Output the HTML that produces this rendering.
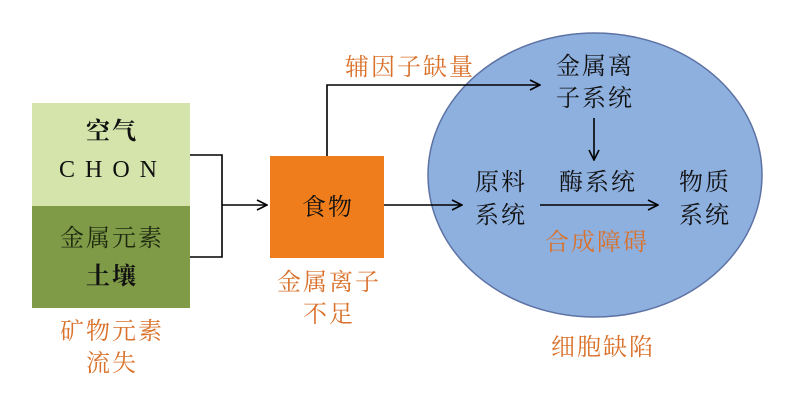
<!DOCTYPE html>
<html><head><meta charset="utf-8"><style>
body{margin:0;background:#fff}
svg text{font-family:"Liberation Serif","Noto Serif CJK SC","Noto Sans CJK SC",serif;font-size:24px;letter-spacing:2px}
</style></head><body>
<svg width="790" height="400" viewBox="0 0 790 400" xmlns="http://www.w3.org/2000/svg">
<defs><marker id="a" markerWidth="12" markerHeight="12" refX="11" refY="6" orient="auto" markerUnits="userSpaceOnUse"><path d="M1,1 L11,6 L1,11" fill="none" stroke="#000" stroke-width="1.6"/></marker></defs>
<ellipse cx="595" cy="175" rx="167" ry="142" fill="#8eb0df" stroke="#5d72a4" stroke-width="1.5"/>
<rect x="32" y="103" width="158" height="103" fill="#d4e4aa"/>
<rect x="32" y="206" width="158" height="102" fill="#7f9b48"/>
<rect x="270" y="156" width="114" height="102" fill="#f07d1b"/>
<g fill="none" stroke="#000" stroke-width="1.6">
<path d="M190,155 H222 V257 H190"/>
<path d="M222,205 H267" marker-end="url(#a)"/>
<path d="M327,156 V85 H540" marker-end="url(#a)"/>
<path d="M384,205 H462" marker-end="url(#a)"/>
<path d="M540,205 H658" marker-end="url(#a)"/>
<path d="M594,118 V160" marker-end="url(#a)"/>
</g>
<g text-anchor="middle" fill="#111">
<text x="112" y="139" font-weight="bold">空气</text>
<text x="113" y="177" style="letter-spacing:10px">CHON</text>
<text x="112" y="246" fill="#1e2a10">金属元素</text>
<text x="112" y="284" font-weight="bold">土壤</text>
<text x="328" y="215">食物</text>
<text x="595" y="74">金属离</text>
<text x="595" y="106">子系统</text>
<text x="501" y="190">原料</text>
<text x="501" y="223">系统</text>
<text x="598" y="190">酶系统</text>
<text x="705" y="190">物质</text>
<text x="705" y="223">系统</text>
</g>
<g text-anchor="middle" fill="#d9712b">
<text x="112" y="339">矿物元素</text>
<text x="112" y="371">流失</text>
<text x="329" y="290">金属离子</text>
<text x="329" y="322">不足</text>
<text x="410" y="75">辅因子缺量</text>
<text x="597" y="250">合成障碍</text>
<text x="603" y="355">细胞缺陷</text>
</g>
</svg>
</body></html>
